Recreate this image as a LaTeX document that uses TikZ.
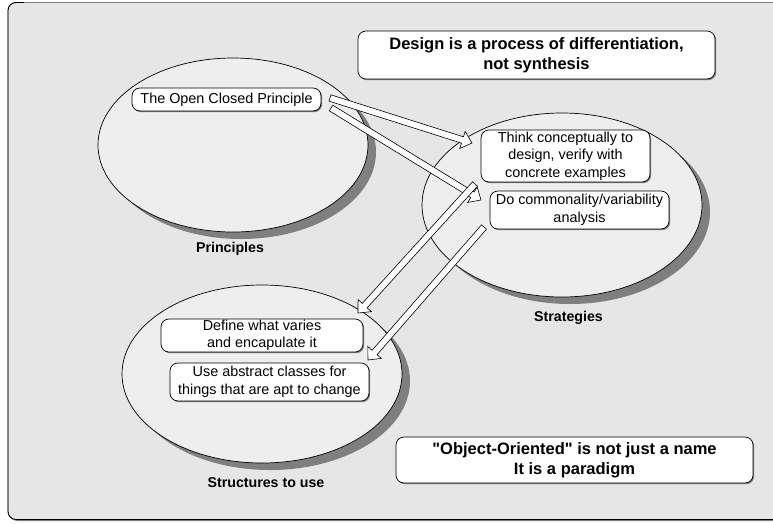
\documentclass[tikz,border=0pt]{standalone}
\usepackage{fontspec}
\setmainfont{Liberation Sans}
\newfontfamily\rawfont{Liberation Sans}
\usetikzlibrary{calc,shadows}

\definecolor{panelgray}{HTML}{E6E6E6}
\definecolor{blobfill}{HTML}{EEEEEE}
\definecolor{shadowgray}{HTML}{7F7F7F}

\tikzset{
  blob/.style={draw=black, line width=0.7pt, fill=blobfill},
  blobshadow/.style={fill=shadowgray},
  note/.style={draw=black, line width=0.7pt, fill=white, rounded corners=8pt,
    align=center, inner sep=0pt,
    drop shadow={fill=shadowgray, opacity=1, shadow xshift=1.2pt, shadow yshift=-1.2pt},
    font=\fontsize{14.4}{17.5}\selectfont},
  headline/.style={note, font=\bfseries\fontsize{16.5}{20}\selectfont},
  caption/.style={font=\bfseries\fontsize{14.2}{17}\selectfont, anchor=base, inner sep=0pt},
  arrowbody/.style={draw=black, line width=0.6pt, fill=white, line join=miter},
}

% straight double quote, set without the TeX ligature mapping
\newcommand\sq{{\rawfont\symbol{"22}}}

% hollow block arrow from coordinate #1 to tip #2
\newcommand\blockarrow[2]{%
  \coordinate (#1-#2-base) at ($(#2)!10pt!(#1)$);
  \draw[arrowbody]
    ($(#1)!3.3pt!90:(#2)$) -- ($(#1-#2-base)!3.3pt!90:(#2)$)
    -- ($(#1-#2-base)!9pt!90:(#2)$) -- (#2)
    -- ($(#1-#2-base)!9pt!-90:(#2)$) -- ($(#1-#2-base)!3.3pt!-90:(#2)$)
    -- ($(#1)!3.3pt!-90:(#2)$) -- cycle;
}

\begin{document}
\begin{tikzpicture}[x=1pt, y=-1pt]
\useasboundingbox (0,0) rectangle (773,523);
\fill[white] (0,0) rectangle (773,523);

% panel
\fill[shadowgray, rounded corners=8pt] (9.5,4) rectangle (791.5,521);
\draw[fill=panelgray, draw=shadowgray, line width=0.8pt, rounded corners=8pt] (8,2.5) rectangle (790,519.5);
\draw[black, line width=0.8pt, rounded corners=8pt] (24,2.5) -- (8,2.5) -- (8,519.5) -- (790,519.5);

% the three areas
\fill[blobshadow] (241,152) ellipse[x radius=135pt, y radius=87pt];
\draw[blob] (233,145) ellipse[x radius=135pt, y radius=87pt];
\fill[blobshadow] (570,212) ellipse[x radius=140pt, y radius=92pt];
\draw[blob] (562,205) ellipse[x radius=140pt, y radius=92pt];
\fill[blobshadow] (270,381) ellipse[x radius=140pt, y radius=89pt];
\draw[blob] (262,374) ellipse[x radius=140pt, y radius=89pt];

\node[caption] (principles) at (230,252.7) {Principles};
\node[caption] (strategies) at (568.5,321.7) {Strategies};
\node[caption] (structures) at (266,487.3) {Structures to use};

% connectors
\coordinate (ocpA) at (330,98);
\coordinate (thinkIn) at (472,143);
\coordinate (ocpB) at (331,108);
\coordinate (cvaIn) at (481,200);
\coordinate (cvaA) at (475,184);
\coordinate (defineIn) at (358,313);
\coordinate (cvaB) at (484,227);
\coordinate (abstractIn) at (368,360);
\blockarrow{ocpA}{thinkIn}
\blockarrow{ocpB}{cvaIn}
\blockarrow{cvaA}{defineIn}
\blockarrow{cvaB}{abstractIn}

% notes
\node[note, minimum width=189pt, minimum height=23pt] (ocp) at (226.5,99.5)
  {The Open Closed Principle};
\node[note, minimum width=169pt, minimum height=52pt] (think) at (565.5,156)
  {Think conceptually to\\design, verify with\\concrete examples};
\node[note, minimum width=179pt, minimum height=38pt] (cva) at (579.5,210)
  {Do commonality/variability\\analysis};
\node[note, minimum width=202pt, minimum height=33pt] (define) at (262,335.5)
  {Define what varies\\and encapulate it};
\node[note, minimum width=199pt, minimum height=38pt] (abstract) at (269.5,382)
  {Use abstract classes for\\things that are apt to change};

\node[headline, minimum width=357pt, minimum height=48pt] (design) at (536.5,55)
  {Design is a process of differentiation,\\not synthesis};
\node[headline, minimum width=357pt, minimum height=46pt] (paradigm) at (574.5,460)
  {\sq Object-Oriented\sq{} is not just a name\\It is a paradigm};
\end{tikzpicture}
\end{document}
